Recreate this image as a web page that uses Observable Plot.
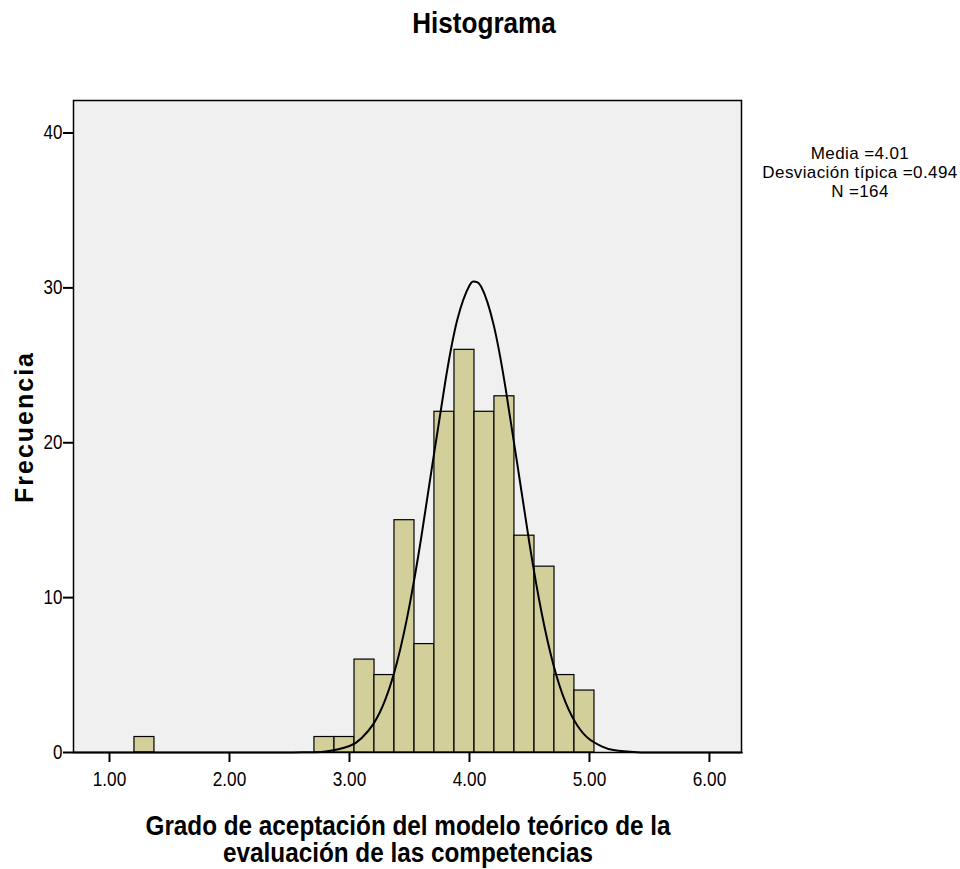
<!DOCTYPE html>
<html>
<head>
<meta charset="utf-8">
<script src="https://cdn.jsdelivr.net/npm/d3@7"></script>
<script src="https://cdn.jsdelivr.net/npm/@observablehq/plot@0.6"></script>
<style>
  html, body { margin: 0; padding: 0; background: #fff; }
  #chart { width: 960px; height: 869px; }
</style>
</head>
<body>
<div id="chart"></div>
<script>
// ---- data ----
const binLower = [1.208, 2.708, 2.875, 3.042, 3.208, 3.375, 3.542, 3.708, 3.875, 4.042, 4.208, 4.375, 4.542, 4.708, 4.875];
const binCounts = [1, 1, 1, 6, 5, 15, 7, 22, 26, 22, 23, 14, 12, 5, 4];
const binWidth = 0.1667;

// normal curve (x, frequency)
const curveX = [0.70, 2.00, 2.40, 2.60, 2.80, 3.00, 3.10, 3.20, 3.30, 3.40, 3.50, 3.60, 3.70, 3.80, 3.90, 4.00, 4.045, 4.10, 4.20, 4.30, 4.40, 4.50, 4.60, 4.70, 4.80, 4.90, 5.00, 5.10, 5.20, 5.40, 5.60, 6.00, 6.27];
const curveY = [0.00, 0.00, 0.00, 0.01, 0.07, 0.42, 0.92, 1.85, 3.44, 5.94, 9.48, 13.98, 19.06, 24.02, 27.99, 30.16, 30.40, 30.04, 27.66, 23.56, 18.55, 13.49, 9.07, 5.65, 3.25, 1.73, 0.85, 0.40, 0.16, 0.02, 0.00, 0.00, 0.00];

const xTicks = [1, 2, 3, 4, 5, 6];
const yTicks = [0, 10, 20, 30, 40];

const titleText = "Histograma";
const statsLines = ["Media =4.01", "Desviación típica =0.494", "N =164"];
const yLabel = "Frecuencia";
const xLabelLines = ["Grado de aceptación del modelo teórico de la", "evaluación de las competencias"];

// ---- build ----
const bars = binLower.map((x, i) => ({x1: x, x2: x + binWidth, y: binCounts[i]}));
const curve = curveX.map((x, i) => ({x, y: curveY[i]}));

const sans = "'Liberation Sans', Arial, sans-serif";

const W = 960, H = 869;
const mL = 73, mR = 219, mT = 100, mB = 117;

const plot = Plot.plot({
  width: W,
  height: H,
  marginLeft: mL,
  marginRight: mR,
  marginTop: mT,
  marginBottom: mB,
  style: {fontFamily: sans, fontSize: "16px", color: "#000", background: "#fff"},
  x: {domain: [0.7, 6.267], ticks: xTicks, tickFormat: d3.format(".2f"), label: null},
  y: {domain: [0, 42.1], ticks: yTicks, label: null},
  marks: [
    Plot.frame({fill: "#f0f0f0", stroke: "none"}),
    Plot.rectY(bars, {x1: "x1", x2: "x2", y: "y", fill: "#d3cf9b", stroke: "#000", strokeWidth: 1.2, insetLeft: 0, insetRight: 0}),
    Plot.line(curve, {x: "x", y: "y", curve: "natural", stroke: "#000", strokeWidth: 2}),
    Plot.frame({stroke: "#000", strokeWidth: 1.5}),
    Plot.axisX({ticks: xTicks, tickFormat: d3.format(".2f"), tickSize: 10, tickPadding: 9, strokeWidth: 2, fontSize: 21, label: null}),
    Plot.axisY({ticks: yTicks, tickSize: 10, tickPadding: 1, strokeWidth: 2, fontSize: 20, label: null})
  ]
});

const svg = d3.select(plot);

// condensed look for tick labels
svg.selectAll('g[aria-label="x-axis tick label"] text').each(function() {
  const t = this.getAttribute("transform") || "";
  this.setAttribute("transform", t + " scale(0.82,1)");
});
svg.selectAll('g[aria-label="y-axis tick label"] text').each(function() {
  const t = this.getAttribute("transform") || "";
  this.setAttribute("transform", t + " scale(0.85,1)");
});

svg.append("text")
  .attr("transform", "translate(484,33) scale(0.87,1)")
  .attr("text-anchor", "middle")
  .style("font-family", sans).style("font-weight", "bold").style("font-size", "30px")
  .text(titleText);

const st = svg.append("text")
  .attr("text-anchor", "middle")
  .style("font-family", sans).style("font-size", "17px").style("letter-spacing", "0.4px");
statsLines.forEach((t, i) => {
  st.append("tspan").attr("x", 860).attr("y", 159 + i * 19).text(t);
});

svg.append("text")
  .attr("transform", "translate(33,427) rotate(-90)")
  .attr("text-anchor", "middle")
  .style("font-family", sans).style("font-weight", "bold").style("font-size", "25px")
  .style("letter-spacing", "2px")
  .text(yLabel);

xLabelLines.forEach((t, i) => {
  svg.append("text")
    .attr("transform", `translate(408,${835 + i * 27}) scale(0.9,1)`)
    .attr("text-anchor", "middle")
    .style("font-family", sans).style("font-weight", "bold").style("font-size", "27px")
    .text(t);
});

document.getElementById("chart").appendChild(plot);
</script>
</body>
</html>
